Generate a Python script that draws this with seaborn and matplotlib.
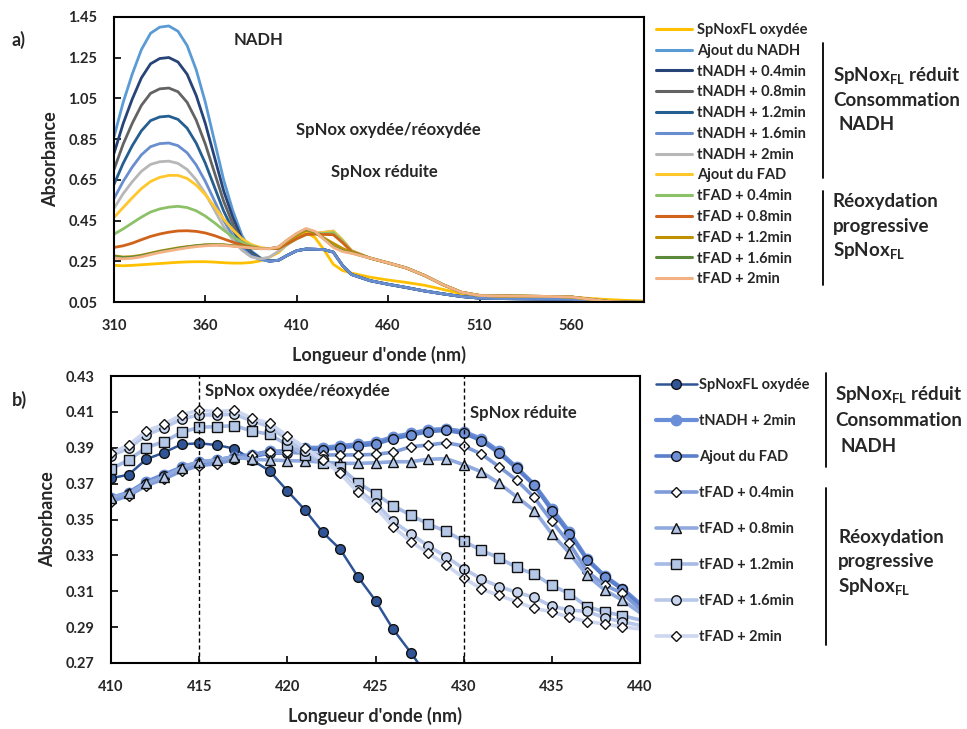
import matplotlib
matplotlib.use('Agg')
import matplotlib.pyplot as plt
import seaborn as sns
from matplotlib.lines import Line2D

sns.set_theme(style='white')
plt.rcParams['font.family'] = ['Lato', 'DejaVu Sans']
plt.rcParams['mathtext.fontset'] = 'custom'
plt.rcParams['mathtext.rm'] = 'Lato'
plt.rcParams['mathtext.bf'] = 'Lato:bold'

# ---------------- Panel a data ----------------
wl_a = [310, 315, 320, 325, 330, 335, 340, 345, 350, 355, 360, 365, 370, 375, 380, 385, 390, 395,
        400, 405, 410, 415, 420, 425, 430, 435, 440,
        450, 460, 470, 480, 490, 500, 510, 520, 530, 540, 550, 560, 570, 580, 590, 600]

red_mid = [0.255, 0.280, 0.302, 0.310, 0.309, 0.307, 0.295, 0.230, 0.185]
red_tail = [0.155, 0.137, 0.121, 0.104, 0.090, 0.077, 0.069, 0.067, 0.066, 0.065, 0.064, 0.063, 0.058, 0.053, 0.050, 0.049]
fad_tail = [0.266, 0.242, 0.217, 0.180, 0.135, 0.098, 0.082, 0.080, 0.079, 0.078, 0.077, 0.075, 0.064, 0.053, 0.049, 0.050]
ox_tail = [0.172, 0.158, 0.146, 0.132, 0.112, 0.090, 0.083, 0.081, 0.079, 0.077, 0.075, 0.073, 0.068, 0.062, 0.058, 0.055]

ox_head = [0.230, 0.228, 0.230, 0.233, 0.236, 0.239, 0.242, 0.245, 0.247, 0.248, 0.248, 0.246, 0.243, 0.241, 0.241, 0.244, 0.252, 0.270]
ox_mid = [0.293, 0.335, 0.373, 0.3925, 0.366, 0.305, 0.235, 0.205, 0.192]
nadh_head = [0.862, 1.030, 1.170, 1.290, 1.370, 1.400, 1.406, 1.380, 1.310, 1.190, 1.030, 0.840, 0.650, 0.499, 0.377, 0.302, 0.267, 0.252]
t04_head = [0.780, 0.926, 1.047, 1.151, 1.220, 1.246, 1.251, 1.229, 1.169, 1.064, 0.926, 0.761, 0.596, 0.466, 0.360, 0.295, 0.265, 0.251]
t08_head = [0.701, 0.825, 0.928, 1.016, 1.075, 1.097, 1.101, 1.083, 1.031, 0.943, 0.825, 0.685, 0.545, 0.434, 0.344, 0.288, 0.263, 0.251]
t12_head = [0.628, 0.731, 0.818, 0.891, 0.941, 0.959, 0.963, 0.947, 0.904, 0.830, 0.731, 0.614, 0.497, 0.404, 0.329, 0.282, 0.261, 0.251]
t16_head = [0.558, 0.642, 0.713, 0.773, 0.813, 0.828, 0.831, 0.818, 0.783, 0.723, 0.642, 0.547, 0.451, 0.375, 0.314, 0.276, 0.259, 0.250]
t2_head = [0.510, 0.582, 0.641, 0.692, 0.726, 0.739, 0.742, 0.731, 0.701, 0.650, 0.582, 0.501, 0.420, 0.356, 0.304, 0.272, 0.262, 0.270]
t2_mid = [0.300, 0.333, 0.362, 0.382, 0.388, 0.393, 0.399, 0.356, 0.303]
fad_head = [0.465, 0.514, 0.562, 0.607, 0.642, 0.662, 0.672, 0.672, 0.657, 0.624, 0.577, 0.518, 0.457, 0.405, 0.361, 0.333, 0.318, 0.312]
fad_mid = [0.315, 0.338, 0.361, 0.381, 0.387, 0.392, 0.398, 0.355, 0.302]
f04_head = [0.383, 0.409, 0.438, 0.467, 0.492, 0.507, 0.516, 0.520, 0.514, 0.498, 0.472, 0.439, 0.403, 0.371, 0.344, 0.326, 0.313, 0.312]
f04_mid = [0.312, 0.335, 0.360, 0.380, 0.3874, 0.3863, 0.391, 0.349, 0.300]
f08_head = [0.318, 0.326, 0.339, 0.356, 0.372, 0.384, 0.393, 0.399, 0.400, 0.397, 0.389, 0.376, 0.360, 0.344, 0.330, 0.320, 0.313, 0.312]
f08_mid = [0.313, 0.337, 0.362, 0.382, 0.383, 0.3816, 0.3806, 0.342, 0.298]
f12_head = [0.277, 0.271, 0.273, 0.280, 0.290, 0.300, 0.308, 0.316, 0.322, 0.327, 0.331, 0.332, 0.331, 0.327, 0.322, 0.317, 0.313, 0.312]
f12_mid = [0.318, 0.350, 0.378, 0.401, 0.3915, 0.364, 0.338, 0.313, 0.294]
f16_head = [0.274, 0.268, 0.270, 0.277, 0.287, 0.297, 0.305, 0.313, 0.320, 0.326, 0.330, 0.331, 0.330, 0.326, 0.321, 0.316, 0.312, 0.312]
f16_mid = [0.320, 0.355, 0.3856, 0.408, 0.394, 0.359, 0.322, 0.301, 0.291]
f2_head = [0.266, 0.262, 0.265, 0.272, 0.283, 0.293, 0.301, 0.309, 0.316, 0.322, 0.326, 0.329, 0.328, 0.324, 0.320, 0.316, 0.312, 0.312]
f2_mid = [0.320, 0.356, 0.387, 0.411, 0.397, 0.357, 0.318, 0.298, 0.289]

labels_a = ['SpNoxFL oxydée', 'Ajout du NADH', 'tNADH + 0.4min', 'tNADH + 0.8min', 'tNADH + 1.2min',
            'tNADH + 1.6min', 'tNADH + 2min', 'Ajout du FAD', 'tFAD + 0.4min', 'tFAD + 0.8min',
            'tFAD + 1.2min', 'tFAD + 1.6min', 'tFAD + 2min']
series_a = [ox_head + ox_mid + ox_tail,
            nadh_head + red_mid + red_tail,
            t04_head + red_mid + red_tail,
            t08_head + red_mid + red_tail,
            t12_head + red_mid + red_tail,
            t16_head + red_mid + red_tail,
            t2_head + t2_mid + fad_tail,
            fad_head + fad_mid + fad_tail,
            f04_head + f04_mid + fad_tail,
            f08_head + f08_mid + fad_tail,
            f12_head + f12_mid + fad_tail,
            f16_head + f16_mid + fad_tail,
            f2_head + f2_mid + fad_tail]
colors_a = ['#FFC000', '#5B9BD5', '#264478', '#636363', '#255E91', '#698ED0', '#B7B7B7',
            '#FFC72C', '#8CC168', '#D0621A', '#BF9000', '#5B8A3A', '#F4B183']

# ---------------- Panel b data ----------------
wl_b = list(range(410, 441))
ox_b = [0.373, 0.375, 0.3836, 0.3873, 0.3919, 0.3925, 0.3915, 0.3895, 0.3832, 0.377, 0.366,
        0.3553, 0.3429, 0.3334, 0.3181, 0.3048, 0.2888, 0.2758, 0.262]
tnadh2_b = [0.362, 0.365, 0.371, 0.375, 0.379, 0.382, 0.383, 0.385, 0.386, 0.388, 0.388, 0.390, 0.390,
            0.391, 0.392, 0.393, 0.396, 0.398, 0.400, 0.4005, 0.399, 0.395, 0.388, 0.379, 0.3695,
            0.356, 0.343, 0.328, 0.3185, 0.3115, 0.303]
fad_b = [0.361, 0.364, 0.370, 0.374, 0.378, 0.381, 0.382, 0.384, 0.385, 0.387, 0.387, 0.389, 0.389,
         0.390, 0.391, 0.392, 0.395, 0.397, 0.399, 0.3997, 0.398, 0.394, 0.387, 0.3785, 0.369,
         0.355, 0.342, 0.3275, 0.318, 0.311, 0.302]
f04_b = [0.360, 0.3633, 0.3689, 0.3726, 0.377, 0.380, 0.3811, 0.3835, 0.386, 0.3874, 0.3874, 0.387,
         0.386, 0.386, 0.386, 0.3863, 0.3875, 0.3906, 0.3915, 0.3928, 0.391, 0.3865, 0.3795, 0.372,
         0.3623, 0.349, 0.3367, 0.321, 0.3135, 0.3088, 0.300]
f08_b = [0.3622, 0.3646, 0.3702, 0.3739, 0.3789, 0.3822, 0.3832, 0.385, 0.3835, 0.3832, 0.3828,
         0.3826, 0.382, 0.3813, 0.3813, 0.3816, 0.3822, 0.3822, 0.3836, 0.3839, 0.3806, 0.3766,
         0.3702, 0.3627, 0.355, 0.342, 0.3313, 0.3188, 0.3107, 0.305, 0.298]
f12_b = [0.3782, 0.3832, 0.3901, 0.3934, 0.3986, 0.4014, 0.4018, 0.4023, 0.3993, 0.3975, 0.3915,
         0.386, 0.3813, 0.379, 0.3705, 0.3643, 0.3577, 0.3524, 0.3474, 0.3434, 0.3379, 0.3328,
         0.3286, 0.3233, 0.3195, 0.3133, 0.3086, 0.3014, 0.2985, 0.2964, 0.294]
f16_b = [0.3856, 0.3897, 0.3971, 0.4012, 0.406, 0.4083, 0.4083, 0.4087, 0.4049, 0.4018, 0.3943,
         0.388, 0.3835, 0.3767, 0.3665, 0.3591, 0.349, 0.342, 0.3352, 0.3293, 0.3226, 0.3169,
         0.3126, 0.3094, 0.3066, 0.3016, 0.2995, 0.2988, 0.2952, 0.293, 0.291]
f2_b = [0.3869, 0.3915, 0.3993, 0.4031, 0.4083, 0.411, 0.4101, 0.411, 0.4064, 0.4036, 0.3967,
        0.3901, 0.3832, 0.3757, 0.3651, 0.3568, 0.346, 0.3377, 0.3312, 0.3247, 0.3175, 0.3113,
        0.3077, 0.3042, 0.3005, 0.2985, 0.2955, 0.2931, 0.2918, 0.2901, 0.289]

labels_b = ['SpNoxFL oxydée', 'tNADH + 2min', 'Ajout du FAD', 'tFAD + 0.4min', 'tFAD + 0.8min',
            'tFAD + 1.2min', 'tFAD + 1.6min', 'tFAD + 2min']
series_b = [ox_b, tnadh2_b, fad_b, f04_b, f08_b, f12_b, f16_b, f2_b]
line_col_b = ['#2F5597', '#6A8FD8', '#5A7FCC', '#7F9CD9', '#90AADF', '#A6BAE6', '#B7C8EA', '#CDD8F0']
face_col_b = ['#2F5597', '#6A8FD8', '#6F90D6', '#FFFFFF', '#B4C7E7', '#B4C7E7', '#C8D5EF', '#FFFFFF']
edge_col_b = ['#111111', '#6A8FD8', '#111111', '#111111', '#111111', '#111111', '#111111', '#111111']
markers_b = ['o', 'o', 'o', 'D', '^', 's', 'o', 'D']
msize_b = [7, 7.5, 7, 5, 6.5, 6.5, 6.8, 5]
lw_b = [1.8, 3.0, 2.6, 2.6, 2.6, 2.6, 2.6, 2.6]

# ---------------- Figure ----------------
fig = plt.figure(figsize=(9.67, 7.29), dpi=100)
ax_a = fig.add_axes([114 / 967, 1 - 302 / 729, 530 / 967, 285 / 729])
ax_b = fig.add_axes([111 / 967, 1 - 663 / 729, 529 / 967, 287 / 729])

for vals, col in zip(series_a, colors_a):
    sns.lineplot(x=wl_a, y=vals, ax=ax_a, color=col, lw=2.0, sort=False, legend=False)

ax_a.set_xlim(310, 600)
ax_a.set_ylim(0.05, 1.45)
ax_a.set_xticks([310, 360, 410, 460, 510, 560])
ya = [0.05, 0.25, 0.45, 0.65, 0.85, 1.05, 1.25, 1.45]
ax_a.set_yticks(ya)
ax_a.set_yticklabels(['%.2f' % v for v in ya])

ax_a.text(389, 1.335, 'NADH', ha='center', va='center', fontsize=12, fontweight='bold')
ax_a.text(460, 0.895, 'SpNox oxydée/réoxydée', ha='center', va='center', fontsize=12, fontweight='bold')
ax_a.text(458, 0.690, 'SpNox réduite', ha='center', va='center', fontsize=12, fontweight='bold')

for i, vals in enumerate(series_b):
    x = wl_b[:len(vals)]
    n = len(vals)
    me = list(range(min(n, 30)))
    sns.lineplot(x=x, y=vals, ax=ax_b, color=line_col_b[i], lw=lw_b[i], sort=False, legend=False,
                 marker=markers_b[i], markersize=msize_b[i], markerfacecolor=face_col_b[i],
                 markeredgecolor=edge_col_b[i], markeredgewidth=1.0, markevery=me)

ax_b.axvline(415, color='black', lw=1.0, ls=(0, (3, 2)))
ax_b.axvline(430, color='black', lw=1.0, ls=(0, (3, 2)))
ax_b.set_xlim(410, 440)
ax_b.set_ylim(0.27, 0.43)
ax_b.set_xticks([410, 415, 420, 425, 430, 435, 440])
yb = [0.27, 0.29, 0.31, 0.33, 0.35, 0.37, 0.39, 0.41, 0.43]
ax_b.set_yticks(yb)
ax_b.set_yticklabels(['%.2f' % v for v in yb])
ax_b.text(415.35, 0.4215, 'SpNox oxydée/réoxydée', ha='left', va='center', fontsize=12, fontweight='bold')
ax_b.text(430.35, 0.4093, 'SpNox réduite', ha='left', va='center', fontsize=12, fontweight='bold')

for ax in (ax_a, ax_b):
    for s in ax.spines.values():
        s.set_visible(True)
        s.set_color('black')
        s.set_linewidth(1.5)
    ax.tick_params(axis='both', direction='in', length=5, width=1.2, color='black',
                   left=True, bottom=True, labelsize=10.5)
    ax.tick_params(axis='y', pad=12)
    ax.tick_params(axis='x', pad=12)
    for lab in ax.get_xticklabels() + ax.get_yticklabels():
        lab.set_fontweight('bold')
    ax.set_xlabel("Longueur d'onde (nm)", fontsize=13, fontweight='bold', labelpad=9.5)
    ax.set_ylabel('Absorbance', fontsize=13, fontweight='bold', labelpad=7)
    ax.grid(False)

fig.text(12 / 967, 1 - 40 / 729, 'a)', fontsize=13, fontweight='bold', va='center')
fig.text(12 / 967, 1 - 400 / 729, 'b)', fontsize=13, fontweight='bold', va='center')

# legends
handles_a = [Line2D([], [], color=c, lw=2.2) for c in colors_a]
fig.legend(handles_a, labels_a, loc='upper left', bbox_to_anchor=(656 / 967, 1 - 23 / 729),
           frameon=False, prop={'size': 10.5, 'weight': 'bold'}, handlelength=2.5,
           handletextpad=0.3, labelspacing=0.465, borderpad=0, borderaxespad=0)

handles_b = [Line2D([], [], color=line_col_b[i], lw=lw_b[i], marker=markers_b[i],
                    markersize=msize_b[i], markerfacecolor=face_col_b[i],
                    markeredgecolor=edge_col_b[i], markeredgewidth=1.0) for i in range(8)]
fig.legend(handles_b, labels_b, loc='upper left', bbox_to_anchor=(656 / 967, 1 - 378 / 729),
           frameon=False, prop={'size': 10.5, 'weight': 'bold'}, handlelength=2.8,
           handletextpad=0.15, labelspacing=1.51, borderpad=0, borderaxespad=0)

# group brackets and labels
def vline(x, y0, y1):
    fig.add_artist(Line2D([x / 967, x / 967], [1 - y0 / 729, 1 - y1 / 729], color='black', lw=1.3))

vline(823, 43, 178)
vline(823, 191, 285)
vline(826, 373, 467)
vline(826, 488, 645)

glab = dict(fontsize=13.5, fontweight='bold', va='center', ha='left')
fig.text(833 / 967, 1 - 76 / 729, r'SpNox$_{\mathbf{FL}}$ réduit', **glab)
fig.text(833 / 967, 1 - 100 / 729, 'Consommation', **glab)
fig.text(838 / 967, 1 - 124 / 729, 'NADH', **glab)
fig.text(833 / 967, 1 - 202 / 729, 'Réoxydation', **glab)
fig.text(833 / 967, 1 - 227 / 729, 'progressive', **glab)
fig.text(833 / 967, 1 - 251 / 729, r'SpNox$_{\mathbf{FL}}$', **glab)

fig.text(835 / 967, 1 - 395 / 729, r'SpNox$_{\mathbf{FL}}$ réduit', **glab)
fig.text(835 / 967, 1 - 421 / 729, 'Consommation', **glab)
fig.text(840 / 967, 1 - 446 / 729, 'NADH', **glab)
fig.text(838 / 967, 1 - 537 / 729, 'Réoxydation', **glab)
fig.text(838 / 967, 1 - 562 / 729, 'progressive', **glab)
fig.text(838 / 967, 1 - 587 / 729, r'SpNox$_{\mathbf{FL}}$', **glab)

fig.savefig('out.png', dpi=100)
